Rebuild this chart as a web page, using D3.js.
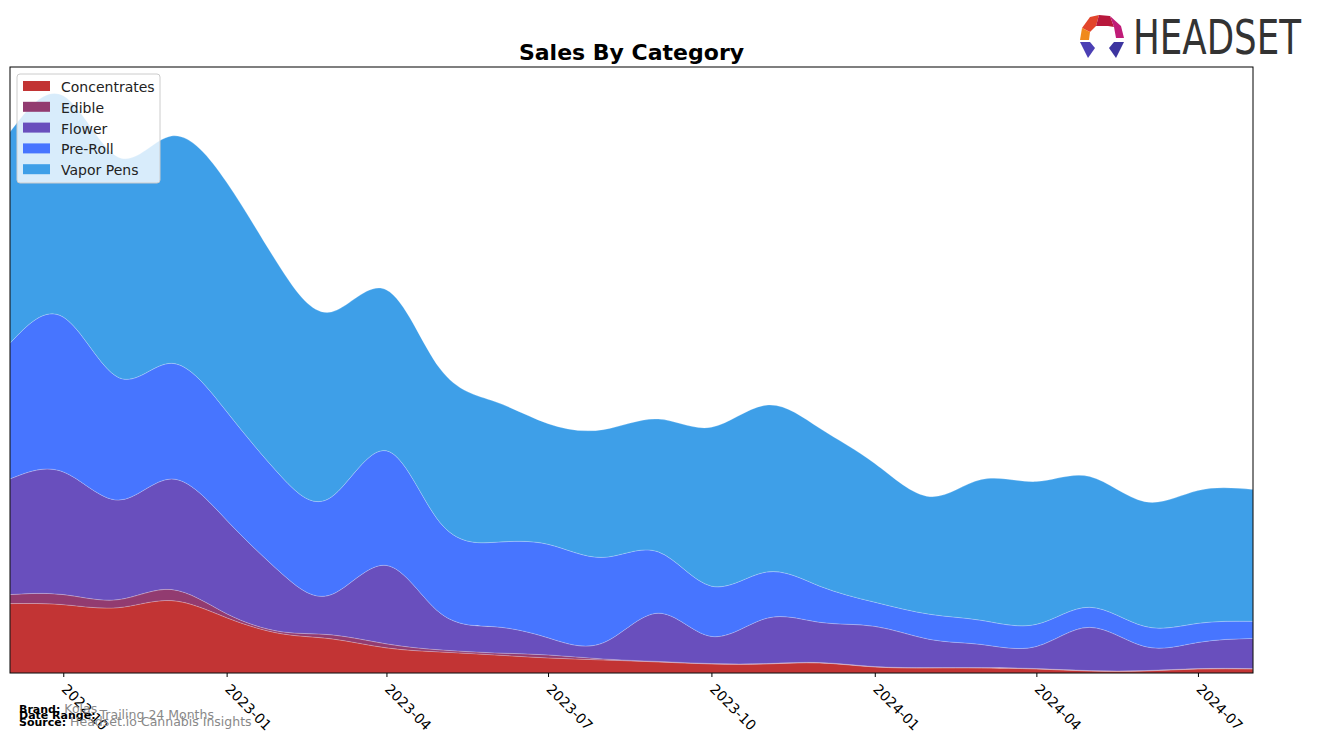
<!DOCTYPE html>
<html>
<head>
<meta charset="utf-8">
<script src="https://cdn.jsdelivr.net/npm/d3@7"></script>
<style>
  body { margin: 0; background: #fff; }
  svg { display: block; font-family: "DejaVu Sans", sans-serif; }
</style>
</head>
<body>
<div id="chart"></div>
<script>
// monthly data, trailing 24 months
var months = ["2022-09","2022-10","2022-11","2022-12","2023-01","2023-02","2023-03","2023-04",
              "2023-05","2023-06","2023-07","2023-08","2023-09","2023-10","2023-11","2023-12",
              "2024-01","2024-02","2024-03","2024-04","2024-05","2024-06","2024-07","2024-08"];
var categories = ["Concentrates", "Edible", "Flower", "Pre-Roll", "Vapor Pens"];

var concentrates = [69, 68, 65, 72, 55, 39, 34, 25, 21, 18, 15, 13, 11, 9, 9, 10, 6, 5, 5, 4, 2, 2, 4, 4];
var edible       = [9, 10, 8, 11, 4, 2, 4, 4, 2, 2, 3, 1, 0.5, 0.4, 0.4, 0.4, 0.4, 0.4, 0.4, 0.4, 0.4, 0.4, 0.4, 0.4];
var flower       = [115, 122, 99, 110, 93, 58, 40, 78, 37, 26, 17, 16, 48, 27, 45, 40, 40, 28, 23, 22, 43, 24, 26, 30];
var preRoll      = [135, 154, 122, 115, 108, 96, 97, 114, 90, 84, 93, 85, 61, 50, 46, 36, 24, 25, 24, 22, 20, 20, 19, 17];
var vaporPens    = [210, 220, 219, 226, 228, 206, 184, 160, 153, 140, 120, 127, 132, 158, 166, 157, 138, 117, 140, 142, 130, 124, 132, 131];

var tickMonths = ["2022-10","2023-01","2023-04","2023-07","2023-10","2024-01","2024-04","2024-07"];

var colors = ["#c23434", "#923b70", "#694fbd", "#4775ff", "#3e9fe8"];

var width = 1317, height = 743;
var plotLeft = 10, plotRight = 1253, plotTop = 67, plotBottom = 673;

var parse = d3.timeParse("%Y-%m");
var series = [concentrates, edible, flower, preRoll, vaporPens];
var rows = months.map(function(m, i) {
	var r = { date: parse(m) };
	categories.forEach(function(c, j) { r[c] = series[j][i]; });
	return r;
});

var stacked = d3.stack().keys(categories)(rows);
var maxTotal = d3.max(rows, function(r) { return d3.sum(categories, function(c) { return r[c]; }); });

var x = d3.scaleTime()
	.domain(d3.extent(rows, function(d) { return d.date; }))
	.range([plotLeft, plotRight]);
var y = d3.scaleLinear()
	.domain([0, maxTotal * 1.05])
	.range([plotBottom, plotTop]);

var svg = d3.select("#chart").append("svg")
	.attr("width", width)
	.attr("height", height);

svg.append("defs").append("clipPath").attr("id", "plot-clip")
	.append("rect").attr("x", plotLeft).attr("y", plotTop)
	.attr("width", plotRight - plotLeft).attr("height", plotBottom - plotTop);

var area = d3.area()
	.curve(d3.curveNatural)
	.x(function(d) { return x(d.data.date); })
	.y0(function(d) { return y(d[0]); })
	.y1(function(d) { return y(d[1]); });

svg.append("g")
	.attr("clip-path", "url(#plot-clip)")
	.selectAll("path")
	.data(stacked)
	.enter().append("path")
	.attr("d", area)
	.attr("fill", function(d, i) { return colors[i]; })
	.attr("stroke", "#ffffff")
	.attr("stroke-opacity", 0.35)
	.attr("stroke-width", 0.6);

// frame
svg.append("rect")
	.attr("x", plotLeft).attr("y", plotTop)
	.attr("width", plotRight - plotLeft).attr("height", plotBottom - plotTop)
	.attr("fill", "none")
	.attr("stroke", "#000")
	.attr("stroke-width", 1);

// x axis
var xAxis = d3.axisBottom(x)
	.tickValues(tickMonths.map(parse))
	.tickSize(4)
	.tickFormat(d3.timeFormat("%Y-%m"));
var gx = svg.append("g")
	.attr("transform", "translate(0," + plotBottom + ")")
	.call(xAxis);
gx.select(".domain").remove();
gx.selectAll(".tick line").attr("stroke", "#000");
gx.selectAll(".tick text")
	.attr("fill", "#000")
	.style("font-size", "14px")
	.style("font-family", "DejaVu Sans, sans-serif")
	.attr("text-anchor", "start")
	.attr("x", 0).attr("y", 0).attr("dy", "0")
	.attr("transform", "translate(-3,17) rotate(45)");

// title
svg.append("text")
	.attr("x", (plotLeft + plotRight) / 2)
	.attr("y", 60)
	.attr("text-anchor", "middle")
	.style("font-size", "22px")
	.style("font-weight", "bold")
	.text("Sales By Category");

// legend
var legend = svg.append("g").attr("transform", "translate(17,74)");
legend.append("rect")
	.attr("width", 143).attr("height", 109)
	.attr("rx", 3)
	.attr("fill", "#ffffff").attr("fill-opacity", 0.8)
	.attr("stroke", "#cccccc");
var item = legend.selectAll("g.item")
	.data(categories)
	.enter().append("g")
	.attr("class", "item")
	.attr("transform", function(d, i) { return "translate(0," + (13 + i * 20.8) + ")"; });
item.append("rect")
	.attr("x", 6).attr("y", -6)
	.attr("width", 27).attr("height", 10)
	.attr("fill", function(d, i) { return colors[i]; });
item.append("text")
	.attr("x", 44).attr("y", 5)
	.style("font-size", "14px")
	.attr("fill", "#222")
	.text(function(d) { return d; });

// footer notes
var notes = [["Brand:", "Kolas", 713], ["Date Range:", "Trailing 24 Months", 719], ["Source:", "Headset.io Cannabis Insights", 726]];
notes.forEach(function(n) {
	var t = svg.append("text").attr("x", 19).attr("y", n[2]);
	t.append("tspan").style("font-weight", "bold").style("font-size", "11px").attr("fill", "#000").text(n[0]);
	t.append("tspan").style("font-size", "12.5px").attr("fill", "#888").text(" " + n[1]);
});

// logo
var logo = svg.append("g").attr("transform", "translate(1102,36)");
var pieces = [
	{ p: "M-20,-8 L-12,-19 L-3,-21 L-6,-10 L-12,-4 Z", c: "#e2452b" },
	{ p: "M-3,-21 L8,-20 L12,-9 L6,-10 L-6,-10 Z", c: "#b8183c" },
	{ p: "M8,-20 L19,-10 L22,2 L14,2 L12,-9 Z", c: "#c01c78" },
	{ p: "M-20,-8 L-12,-4 L-13,4 L-22,4 Z", c: "#f08a1c" },
	{ p: "M-22,6 L-12,6 L-7,12 L-14,22 Z", c: "#4b3fb4" },
	{ p: "M22,6 L12,6 L7,12 L14,22 Z", c: "#3d35a0" }
];
logo.selectAll("path").data(pieces).enter().append("path")
	.attr("d", function(d) { return d.p; })
	.attr("fill", function(d) { return d.c; });
svg.append("text")
	.attr("x", 1133).attr("y", 54)
	.attr("textLength", 168)
	.attr("lengthAdjust", "spacingAndGlyphs")
	.style("font-family", "'DejaVu Sans Condensed', 'Liberation Sans Narrow', sans-serif")
	.style("font-size", "48px")
	.attr("fill", "#333")
	.text("HEADSET");
</script>
</body>
</html>
